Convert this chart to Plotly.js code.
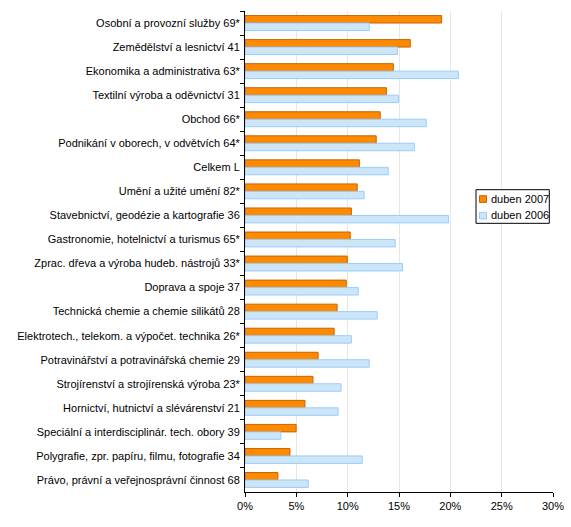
<!DOCTYPE html>
<html>
<head>
<meta charset="utf-8">
<script src="https://cdn.plot.ly/plotly-3.0.1.min.js"></script>
<style>html,body{margin:0;padding:0;background:#fff;}#chart{width:571px;height:527px;}</style>
</head>
<body>
<div id="chart"></div>
<script>
const categories = [
  "Osobní a provozní služby 69*",
  "Zemědělství a lesnictví 41",
  "Ekonomika a administrativa 63*",
  "Textilní výroba a oděvnictví 31",
  "Obchod 66*",
  "Podnikání v oborech, v odvětvích 64*",
  "Celkem L",
  "Umění a užité umění 82*",
  "Stavebnictví, geodézie a kartografie 36",
  "Gastronomie, hotelnictví a turismus 65*",
  "Zprac. dřeva a výroba hudeb. nástrojů 33*",
  "Doprava a spoje 37",
  "Technická chemie a chemie silikátů 28",
  "Elektrotech., telekom. a výpočet. technika 26*",
  "Potravinářství a potravinářská chemie 29",
  "Strojírenství a strojírenská výroba 23*",
  "Hornictví, hutnictví a slévárenství 21",
  "Speciální a interdisciplinár. tech. obory 39",
  "Polygrafie, zpr. papíru, filmu, fotografie 34",
  "Právo, právní a veřejnosprávní činnost 68"
];
const duben2007 = [19.15, 16.1, 14.45, 13.77, 13.17, 12.78, 11.14, 10.93, 10.36, 10.25, 9.96, 9.86, 8.97, 8.68, 7.12, 6.62, 5.84, 4.98, 4.38, 3.2];
const duben2006 = [12.1, 14.84, 20.8, 14.95, 17.65, 16.5, 13.95, 11.6, 19.82, 14.63, 15.34, 11.03, 12.88, 10.36, 12.1, 9.36, 9.07, 3.49, 11.42, 6.16];
const xTickVals = [0, 5, 10, 15, 20, 25, 30];
const xTickText = ["0%", "5%", "10%", "15%", "20%", "25%", "30%"];
const seriesNames = ["duben 2007", "duben 2006"];
const seriesFill = ["#FF8A00", "#CCE6F8"];
const seriesLine = ["#C86400", "#99CCFF"];

const traces = seriesNames.map((nm, i) => ({
  type: "bar", orientation: "h", name: nm, y: categories,
  x: i === 0 ? duben2007 : duben2006,
  marker: {color: seriesFill[i], line: {color: seriesLine[i], width: 1}},
  showlegend: false
}));

// compact legend box (drawn in paper coordinates, like the original's small legend)
const legShapes = [
  {type: "rect", xref: "paper", yref: "paper", x0: 0.75, x1: 0.988, y0: 0.5586, y1: 0.6285,
   line: {color: "#000", width: 1}, fillcolor: "#fff", layer: "above"},
  {type: "rect", xref: "paper", yref: "paper", x0: 0.7614, x1: 0.784, y0: 0.602, y1: 0.616,
   line: {color: seriesLine[0], width: 1}, fillcolor: seriesFill[0], layer: "above"},
  {type: "rect", xref: "paper", yref: "paper", x0: 0.7614, x1: 0.784, y0: 0.5676, y1: 0.5815,
   line: {color: seriesLine[1], width: 1}, fillcolor: seriesFill[1], layer: "above"}
];
const legAnn = [
  {xref: "paper", yref: "paper", x: 0.792, y: 0.609, xanchor: "left", yanchor: "middle",
   text: seriesNames[0], showarrow: false, font: {size: 11, color: "#000"}},
  {xref: "paper", yref: "paper", x: 0.792, y: 0.575, xanchor: "left", yanchor: "middle",
   text: seriesNames[1], showarrow: false, font: {size: 11, color: "#000"}}
];

const layout = {
  width: 571, height: 527,
  margin: {l: 245, r: 18, t: 11, b: 35, pad: 0},
  paper_bgcolor: "#fff", plot_bgcolor: "#fff",
  font: {family: "Liberation Sans, Arial, sans-serif", size: 11, color: "#000"},
  barmode: "group", bargap: 0.38, bargroupgap: 0,
  showlegend: false,
  shapes: legShapes,
  annotations: legAnn,
  xaxis: {range: [0, 30], tickvals: xTickVals, ticktext: xTickText,
    showgrid: true, gridcolor: "#E6E6E6", gridwidth: 1,
    showline: true, linecolor: "#000", linewidth: 1,
    ticks: "outside", ticklen: 4, tickcolor: "#000", zeroline: false,
    tickfont: {size: 11}, fixedrange: true, automargin: false},
  yaxis: {type: "category", autorange: "reversed",
    showline: true, linecolor: "#000", linewidth: 1,
    ticks: "outside", ticklen: 4, tickcolor: "#000", tickson: "boundaries",
    showgrid: false, tickfont: {size: 11}, ticklabelstandoff: 2, fixedrange: true, automargin: false}
};

Plotly.newPlot("chart", traces, layout, {displayModeBar: false, staticPlot: true});
</script>
</body>
</html>
